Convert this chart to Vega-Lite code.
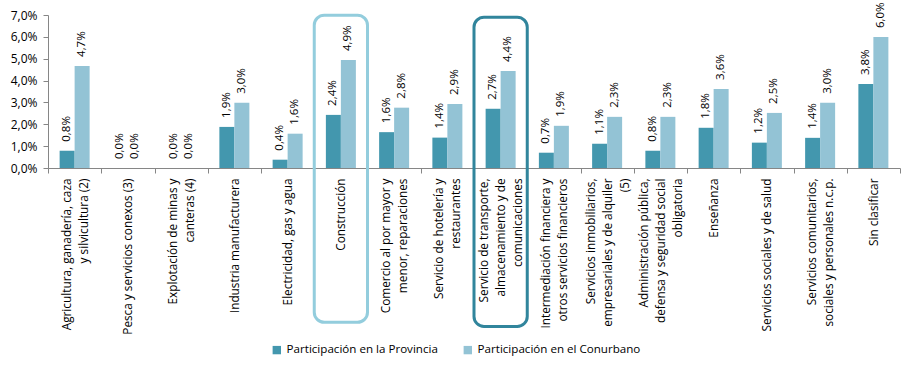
{
  "$schema": "https://vega.github.io/schema/vega-lite/v6.json",
  "width": 852,
  "height": 153,
  "autosize": "none",
  "padding": {"left": 48, "top": 15, "right": 5, "bottom": 204},
  "config": {
    "locale": {"number": {"decimal": ",", "thousands": ".", "grouping": [3], "currency": ["$", ""]}},
    "view": {"stroke": null},
    "font": "Open Sans",
    "axis": {"labelOverlap": false},
    "axisY": {"labelOverlap": false}
  },
  "data": {
    "values": [
      {"categoria": "Agricultura, ganadería, caza\ny silvicultura (2)", "serie": "Participación en la Provincia", "valor": 0.0079},
      {"categoria": "Agricultura, ganadería, caza\ny silvicultura (2)", "serie": "Participación en el Conurbano", "valor": 0.0467},
      {"categoria": "Pesca y servicios conexos (3)", "serie": "Participación en la Provincia", "valor": 0.0},
      {"categoria": "Pesca y servicios conexos (3)", "serie": "Participación en el Conurbano", "valor": 0.0},
      {"categoria": "Explotación de minas y\ncanteras (4)", "serie": "Participación en la Provincia", "valor": 0.0},
      {"categoria": "Explotación de minas y\ncanteras (4)", "serie": "Participación en el Conurbano", "valor": 0.0},
      {"categoria": "Industria manufacturera", "serie": "Participación en la Provincia", "valor": 0.0188},
      {"categoria": "Industria manufacturera", "serie": "Participación en el Conurbano", "valor": 0.0298},
      {"categoria": "Electricidad, gas y agua", "serie": "Participación en la Provincia", "valor": 0.0038},
      {"categoria": "Electricidad, gas y agua", "serie": "Participación en el Conurbano", "valor": 0.0157},
      {"categoria": "Construcción", "serie": "Participación en la Provincia", "valor": 0.0243},
      {"categoria": "Construcción", "serie": "Participación en el Conurbano", "valor": 0.0494},
      {"categoria": "Comercio al por mayor y\nmenor, reparaciones", "serie": "Participación en la Provincia", "valor": 0.0164},
      {"categoria": "Comercio al por mayor y\nmenor, reparaciones", "serie": "Participación en el Conurbano", "valor": 0.0276},
      {"categoria": "Servicio de hotelería y\nrestaurantes", "serie": "Participación en la Provincia", "valor": 0.0139},
      {"categoria": "Servicio de hotelería y\nrestaurantes", "serie": "Participación en el Conurbano", "valor": 0.0293},
      {"categoria": "Servicio de transporte,\nalmacenamiento y de\ncomunicaciones", "serie": "Participación en la Provincia", "valor": 0.0271},
      {"categoria": "Servicio de transporte,\nalmacenamiento y de\ncomunicaciones", "serie": "Participación en el Conurbano", "valor": 0.0444},
      {"categoria": "Intermediación financiera y\notros servicios financieros", "serie": "Participación en la Provincia", "valor": 0.007},
      {"categoria": "Intermediación financiera y\notros servicios financieros", "serie": "Participación en el Conurbano", "valor": 0.0193},
      {"categoria": "Servicios inmobiliarios,\nempresariales y de alquiler\n(5)", "serie": "Participación en la Provincia", "valor": 0.0111},
      {"categoria": "Servicios inmobiliarios,\nempresariales y de alquiler\n(5)", "serie": "Participación en el Conurbano", "valor": 0.0234},
      {"categoria": "Administración pública,\ndefensa y seguridad social\nobligatoria", "serie": "Participación en la Provincia", "valor": 0.0079},
      {"categoria": "Administración pública,\ndefensa y seguridad social\nobligatoria", "serie": "Participación en el Conurbano", "valor": 0.0234},
      {"categoria": "Enseñanza", "serie": "Participación en la Provincia", "valor": 0.0184},
      {"categoria": "Enseñanza", "serie": "Participación en el Conurbano", "valor": 0.0362},
      {"categoria": "Servicios sociales y de salud", "serie": "Participación en la Provincia", "valor": 0.0116},
      {"categoria": "Servicios sociales y de salud", "serie": "Participación en el Conurbano", "valor": 0.0252},
      {"categoria": "Servicios comunitarios,\nsociales y personales n.c.p.", "serie": "Participación en la Provincia", "valor": 0.0138},
      {"categoria": "Servicios comunitarios,\nsociales y personales n.c.p.", "serie": "Participación en el Conurbano", "valor": 0.0298},
      {"categoria": "Sin clasificar", "serie": "Participación en la Provincia", "valor": 0.0384},
      {"categoria": "Sin clasificar", "serie": "Participación en el Conurbano", "valor": 0.0599}
    ]
  },
  "encoding": {
    "x": {
      "field": "categoria",
      "type": "nominal",
      "sort": null,
      "scale": {"paddingInner": 0, "paddingOuter": 0},
      "axis": {
        "title": null,
        "labelAngle": -90,
        "labelAlign": "right",
        "labelBaseline": "middle",
        "labelPadding": 5,
        "tickSize": 5,
        "tickBand": "extent",
        "labelLineHeight": 17,
        "labelExpr": "split(datum.label, '\\n')",
        "labelFontSize": 11.8,
        "labelColor": "#000000",
        "labelOverlap": false,
        "domainColor": "#868686",
        "tickColor": "#868686",
        "labelLimit": 250,
        "labelOffset": {
          "condition": [
            {"test": "length(split(datum.value, '\\n')) == 3", "value": -17},
            {"test": "length(split(datum.value, '\\n')) == 2", "value": -8.5}
          ],
          "value": 0
        }
      }
    },
    "y": {
      "field": "valor",
      "type": "quantitative",
      "scale": {"domain": [0, 0.07], "nice": false},
      "axis": {
        "title": null,
        "format": ".1%",
        "values": [0, 0.01, 0.02, 0.03, 0.04, 0.05, 0.06, 0.07],
        "grid": false,
        "tickSize": 5,
        "labelPadding": 6,
        "labelFontSize": 12,
        "labelOverlap": false,
        "labelColor": "#000000",
        "domainColor": "#868686",
        "tickColor": "#868686"
      }
    }
  },
  "layer": [
    {
      "mark": {"type": "bar"},
      "encoding": {
        "xOffset": {
          "field": "serie",
          "type": "nominal",
          "sort": ["Participación en la Provincia", "Participación en el Conurbano"],
          "scale": {"paddingInner": 0, "paddingOuter": 0.775}
        },
        "color": {
          "field": "serie",
          "type": "nominal",
          "sort": ["Participación en la Provincia", "Participación en el Conurbano"],
          "scale": {"domain": ["Participación en la Provincia", "Participación en el Conurbano"], "range": ["#4397AE", "#93C3D5"]},
          "legend": {
            "title": null,
            "orient": "none",
            "direction": "horizontal",
            "legendX": 223,
            "legendY": 329,
            "symbolType": "square",
            "symbolSize": 70,
            "symbolStrokeWidth": 0,
            "labelFontSize": 11.6,
            "labelLimit": 300,
            "labelColor": "#000000",
            "columnPadding": 24,
            "labelOffset": 4
          }
        }
      }
    },
    {
      "mark": {"type": "text", "angle": -90, "align": "left", "baseline": "middle", "dx": 9, "fontSize": 11.5, "color": "#000000"},
      "encoding": {
        "xOffset": {"field": "serie", "type": "nominal", "sort": ["Participación en la Provincia", "Participación en el Conurbano"]},
        "text": {"field": "valor", "type": "quantitative", "format": ".1%"}
      }
    },
    {
      "transform": [{"filter": "datum.categoria == 'Construcción' && datum.serie == 'Participación en la Provincia'"}],
      "mark": {"type": "rect", "fill": "transparent", "stroke": "#93CDDD", "strokeWidth": 3, "cornerRadius": 10},
      "encoding": {
        "y": {"datum": 0.0699, "type": "quantitative"},
        "y2": {"datum": -0.0706}
      }
    },
    {
      "transform": [{"filter": "indexof(datum.categoria, 'Servicio de transporte') == 0 && datum.serie == 'Participación en la Provincia'"}],
      "mark": {"type": "rect", "fill": "transparent", "stroke": "#31859C", "strokeWidth": 3, "cornerRadius": 10},
      "encoding": {
        "y": {"datum": 0.069, "type": "quantitative"},
        "y2": {"datum": -0.0725}
      }
    }
  ]
}
